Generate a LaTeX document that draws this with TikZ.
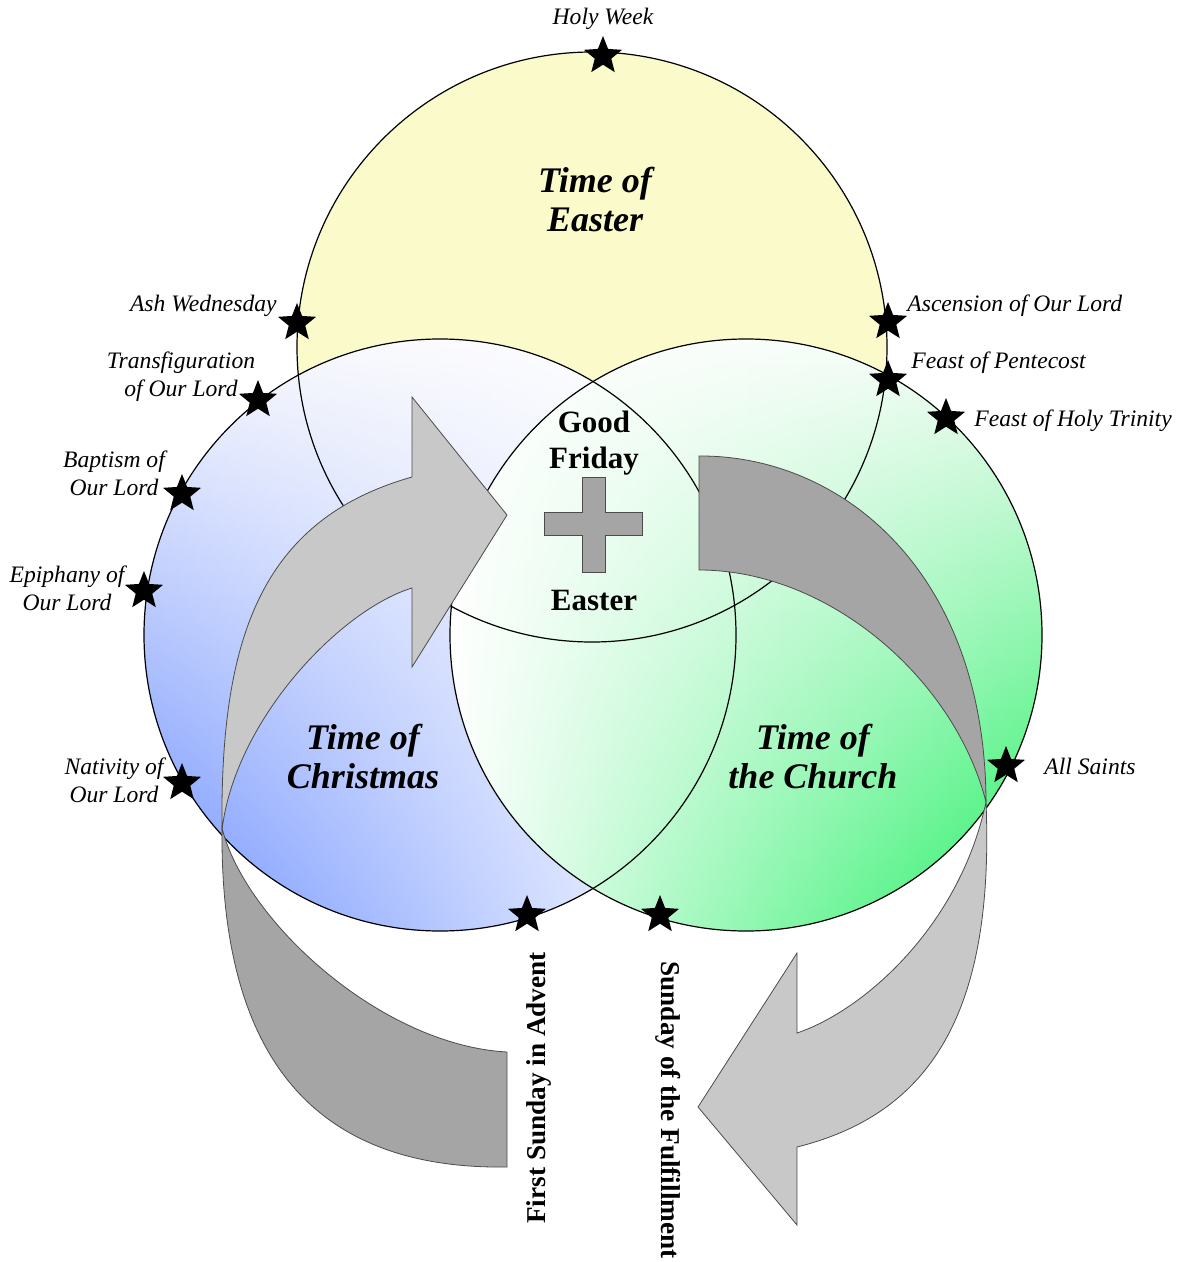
\documentclass[tikz,border=0pt]{standalone}
\usepackage{fontspec}
\setmainfont{Liberation Serif}
\usetikzlibrary{shapes.geometric,fadings}

\definecolor{eastery}{RGB}{250,250,202}
\definecolor{xmasblue}{RGB}{110,145,255}
\definecolor{xmastop}{RGB}{248,248,253}
\definecolor{churchgreen}{RGB}{35,240,100}
\definecolor{churchtop}{RGB}{246,252,247}
\definecolor{arrowlight}{RGB}{200,200,200}
\definecolor{arrowdark}{RGB}{165,165,165}
\definecolor{edgegrey}{RGB}{75,75,75}

\tikzfading[name=whiteright, left color=transparent!100, right color=transparent!0]
\tikzfading[name=whiteleft, left color=transparent!0, right color=transparent!100]

\begin{document}
\begin{tikzpicture}[x=0.5pt,y=-0.5pt,
  ring/.style={draw=black, line width=0.6pt},
  starmark/.style={star, star points=5, star point ratio=2.3, fill=black, draw=none, minimum size=20pt, inner sep=0pt},
  feast/.style={font=\fontsize{11.8}{14}\selectfont\itshape, align=center, inner sep=0pt},
  season/.style={font=\fontsize{18}{19.5}\selectfont\bfseries\itshape, align=center, inner sep=0pt},
  centre/.style={font=\fontsize{15.5}{18}\selectfont\bfseries, align=center, inner sep=0pt},
  sunday/.style={font=\fontsize{13.6}{16}\selectfont\bfseries, inner sep=0pt},
  lightband/.style={fill=arrowlight, draw=edgegrey, line width=0.4pt},
  darkband/.style={fill=arrowdark, draw=edgegrey, line width=0.4pt},
]
\useasboundingbox (0,0) rectangle (1180,1262);

% circle centres
\coordinate (cE) at (592,347);
\coordinate (cX) at (440,635);
\coordinate (cC) at (746,635);

% fills
\fill[eastery] (cE) circle[radius=147.5pt];
\shade[top color=xmastop, bottom color=xmasblue] (cX) circle[radius=148pt];
\fill[white, path fading=whiteright] (cX) circle[radius=148pt];
\shade[top color=churchtop, bottom color=churchgreen] (cC) circle[radius=148pt];
\fill[white, path fading=whiteleft] (cC) circle[radius=148pt];

% outlines
\draw[ring] (cE) circle[radius=147.5pt];
\draw[ring] (cX) circle[radius=148pt];
\draw[ring] (cC) circle[radius=148pt];

% left rising arrow (light)
\filldraw[lightband]
  (222,830) .. controls (220,640) and (260,520) .. (412,477)
  -- (412,397) -- (507,515) -- (412,667) -- (412,588)
  .. controls (340,610) and (235,720) .. (222,830) -- cycle;

% left lower band (dark)
\filldraw[darkband]
  (222,828) .. controls (220,1040) and (300,1170) .. (507,1167)
  -- (507,1052)
  .. controls (380,1045) and (245,920) .. (222,828) -- cycle;

% right upper band (dark)
\filldraw[darkband]
  (699,456) .. controls (840,455) and (985,570) .. (986,802)
  .. controls (955,680) and (830,570) .. (699,570) -- cycle;

% right descending arrow (light)
\filldraw[lightband]
  (986,802) .. controls (995,1020) and (925,1115) .. (797,1147)
  -- (797,1225) -- (698,1107) -- (797,953) -- (797,1033)
  .. controls (865,1010) and (960,925) .. (986,802) -- cycle;

% cross
\filldraw[fill=arrowdark, draw=edgegrey, line width=0.4pt]
  (582,477) -- (605,477) -- (605,512) -- (642,512) -- (642,535) -- (605,535)
  -- (605,572) -- (582,572) -- (582,535) -- (544,535) -- (544,512) -- (582,512) -- cycle;

% stars
\node[starmark] (sHoly) at (603,56) {};
\node[starmark] (sAsh) at (297,323) {};
\node[starmark] (sTrans) at (258,400) {};
\node[starmark] (sBapt) at (182,494) {};
\node[starmark] (sEpiph) at (144,591) {};
\node[starmark] (sNativ) at (182,783) {};
\node[starmark] (sAdvent) at (527,915) {};
\node[starmark] (sFulfil) at (660,915) {};
\node[starmark] (sSaints) at (1006,766) {};
\node[starmark] (sTrin) at (946,418) {};
\node[starmark] (sPent) at (888,380) {};
\node[starmark] (sAsc) at (888,322) {};

% feast labels
\node[feast] (tHoly) at (603,19) {Holy Week};
\node[feast, anchor=east] (tAsh) at (277,306) {Ash Wednesday};
\node[feast] (tTrans) at (181,377) {Transfiguration\\of Our Lord};
\node[feast] (tBapt) at (114,473) {Baptism of\\Our Lord};
\node[feast] (tEpiph) at (67,588) {Epiphany of\\Our Lord};
\node[feast] (tNativ) at (114,780) {Nativity of\\Our Lord};
\node[feast, anchor=west] (tAsc) at (907,306) {Ascension of Our Lord};
\node[feast, anchor=west] (tPent) at (911,363) {Feast of Pentecost};
\node[feast, anchor=west] (tTrin) at (974,421) {Feast of Holy Trinity};
\node[feast, anchor=west] (tSaints) at (1044,766) {All Saints};

% season labels
\node[season] (tEaster) at (595,200) {Time of\\Easter};
\node[season] (tXmas) at (363,757) {Time of\\Christmas};
\node[season] (tChurch) at (813,757) {Time of\\the Church};

% centre labels
\node[centre] (tGood) at (594,443) {Good\\Friday};
\node[centre] (tEasterDay) at (594,600) {Easter};

% vertical labels
\node[sunday, rotate=90] (tAdvent) at (539,1088) {First Sunday in Advent};
\node[sunday, rotate=-90] (tFulfil) at (668,1110) {Sunday of the Fulfillment};
\end{tikzpicture}
\end{document}
